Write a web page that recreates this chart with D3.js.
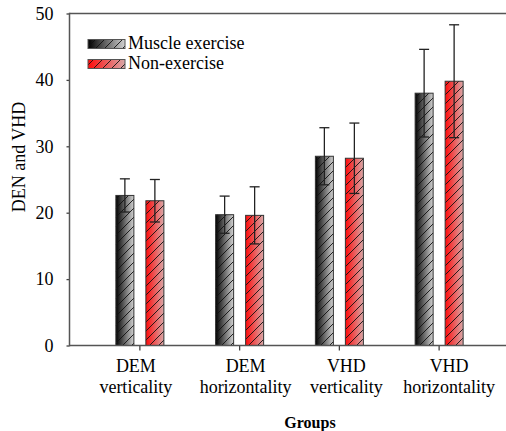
<!DOCTYPE html>
<html>
<head>
<meta charset="utf-8">
<script src="https://cdn.jsdelivr.net/npm/d3@7"></script>
<style>
  body { margin: 0; background: #fff; }
</style>
</head>
<body>
<div id="chart"></div>
<script>
// data
var groups = ["DEM verticality", "DEM horizontality", "VHD verticality", "VHD horizontality"];
var groupLines = [["DEM", "verticality"], ["DEM", "horizontality"], ["VHD", "verticality"], ["VHD", "horizontality"]];
var seriesNames = ["Muscle exercise", "Non-exercise"];
var muscleMean = [22.6, 19.7, 28.5, 38.0];
var muscleSD = [2.5, 2.8, 4.3, 6.6];
var nonMean = [21.8, 19.6, 28.2, 39.8];
var nonSD = [3.2, 4.3, 5.3, 8.5];
var yTicks = [0, 10, 20, 30, 40, 50];

// label nudges as placed in the original figure
var labelShift = [-4, 6, 7, 10];

var serif = "Liberation Serif";

var svgWidth = 506;
var svgHeight = 431;

var svg = d3.select("#chart")
  .append("svg")
  .attr("width", svgWidth)
  .attr("height", svgHeight);

var defs = svg.append("defs");

// gradients for the two series
var gradSpecs = [
  { id: "gBlack", from: "#000000", to: "#d2d2d2" },
  { id: "gRed", from: "#ff0a0a", to: "#d9a8a8" }
];
gradSpecs.forEach(function(g) {
  var lg = defs.append("linearGradient")
    .attr("id", g.id)
    .attr("x1", "0%").attr("x2", "100%")
    .attr("y1", "0%").attr("y2", "0%");
  lg.append("stop").attr("offset", "0%").attr("stop-color", g.from);
  lg.append("stop").attr("offset", "100%").attr("stop-color", g.to);
});

// diagonal hatch
defs.append("pattern")
  .attr("id", "hatch")
  .attr("patternUnits", "userSpaceOnUse")
  .attr("width", 9)
  .attr("height", 9)
  .append("path")
  .attr("d", "M-1,1 l2,-2 M0,9 l9,-9 M8,10 l2,-2")
  .attr("stroke", "#111")
  .attr("stroke-width", 0.9);

var fills = ["url(#gBlack)", "url(#gRed)"];

// scales
var x0 = d3.scaleBand()
  .domain(groups)
  .range([90, 489]);

var x1 = d3.scaleBand()
  .domain(seriesNames)
  .range([-24, 24])
  .paddingInner(0.4);

var y = d3.scaleLinear()
  .domain([0, 50])
  .range([345.5, 13.5]);

var left = 69.5;

// bar table
var table = [];
groups.forEach(function(g, i) {
  table.push({ group: g, series: seriesNames[0], mean: muscleMean[i], sd: muscleSD[i], s: 0 });
  table.push({ group: g, series: seriesNames[1], mean: nonMean[i], sd: nonSD[i], s: 1 });
});

function barX(d) {
  return x0(d.group) + x0.bandwidth() / 2 + x1(d.series);
}

var bars = svg.append("g");

bars.selectAll("rect.fill")
  .data(table)
  .enter()
  .append("rect")
  .attr("class", "fill")
  .attr("x", barX)
  .attr("y", d => y(d.mean))
  .attr("width", x1.bandwidth())
  .attr("height", d => y(0) - y(d.mean))
  .attr("fill", d => fills[d.s]);

bars.selectAll("rect.hatch")
  .data(table)
  .enter()
  .append("rect")
  .attr("class", "hatch")
  .attr("x", barX)
  .attr("y", d => y(d.mean))
  .attr("width", x1.bandwidth())
  .attr("height", d => y(0) - y(d.mean))
  .attr("fill", "url(#hatch)")
  .attr("stroke", "#333")
  .attr("stroke-width", 1);

// error bars
var err = svg.append("g")
  .attr("stroke", "#222")
  .attr("stroke-width", 1.3);

table.forEach(function(d) {
  var cx = barX(d) + x1.bandwidth() / 2;
  var top = y(d.mean + d.sd);
  var bot = y(d.mean - d.sd);
  err.append("line").attr("x1", cx).attr("x2", cx).attr("y1", top).attr("y2", bot);
  err.append("line").attr("x1", cx - 5).attr("x2", cx + 5).attr("y1", top).attr("y2", top);
  err.append("line").attr("x1", cx - 5).attr("x2", cx + 5).attr("y1", bot).attr("y2", bot);
});

// axes
var leftAxis = d3.axisLeft(y)
  .tickValues(yTicks)
  .tickSize(3)
  .tickPadding(13)
  .tickFormat(d3.format("d"));

var yg = svg.append("g")
  .attr("transform", `translate(${left}, 0)`)
  .call(leftAxis);
yg.select(".domain").remove();
yg.selectAll(".tick line").attr("stroke", "#444").attr("stroke-width", 1.3);
yg.selectAll(".tick text")
  .attr("fill", "#000")
  .style("font-family", serif)
  .style("font-size", "18px");

var bottomAxis = d3.axisBottom(x0)
  .tickSize(5)
  .tickFormat("");

var xg = svg.append("g")
  .attr("transform", `translate(0, ${y(0)})`)
  .call(bottomAxis);
xg.select(".domain").remove();
xg.selectAll(".tick line").attr("stroke", "#444").attr("stroke-width", 1.3);

// frame lines
var frame = svg.append("g").attr("stroke", "#555").attr("stroke-width", 1.5);
frame.append("line").attr("x1", left).attr("x2", svgWidth).attr("y1", y(0)).attr("y2", y(0));
frame.append("line").attr("x1", left).attr("x2", svgWidth).attr("y1", y(50)).attr("y2", y(50));
frame.append("line").attr("x1", left).attr("x2", left).attr("y1", y(50) - 0.75).attr("y2", y(0) + 0.75);

// category labels (two lines)
var labels = svg.append("g");
groups.forEach(function(g, i) {
  var cx = x0(g) + x0.bandwidth() / 2 + labelShift[i];
  var t = labels.append("text")
    .attr("text-anchor", "middle")
    .style("font-family", serif)
    .style("font-size", "18px");
  t.append("tspan").attr("x", cx).attr("y", 372).text(groupLines[i][0]);
  t.append("tspan").attr("x", cx).attr("y", 393).text(groupLines[i][1]);
});

// axis titles
svg.append("text")
  .attr("transform", "translate(25, 157) rotate(-90)")
  .attr("text-anchor", "middle")
  .style("font-family", serif)
  .style("font-size", "18px")
  .text("DEN and VHD");

svg.append("text")
  .attr("x", 310)
  .attr("y", 428)
  .attr("text-anchor", "middle")
  .style("font-family", serif)
  .style("font-size", "16px")
  .style("font-weight", "bold")
  .text("Groups");

// legend
var legend = svg.append("g");
seriesNames.forEach(function(name, i) {
  var ly = 39.5 + i * 20;
  legend.append("rect")
    .attr("x", 88).attr("y", ly)
    .attr("width", 37).attr("height", 9)
    .attr("fill", fills[i]);
  legend.append("rect")
    .attr("x", 88).attr("y", ly)
    .attr("width", 37).attr("height", 9)
    .attr("fill", "url(#hatch)")
    .attr("stroke", "#555")
    .attr("stroke-width", 1);
  legend.append("text")
    .attr("x", 128)
    .attr("y", ly + 9)
    .style("font-family", serif)
    .style("font-size", "18px")
    .text(name);
});
</script>
</body>
</html>
